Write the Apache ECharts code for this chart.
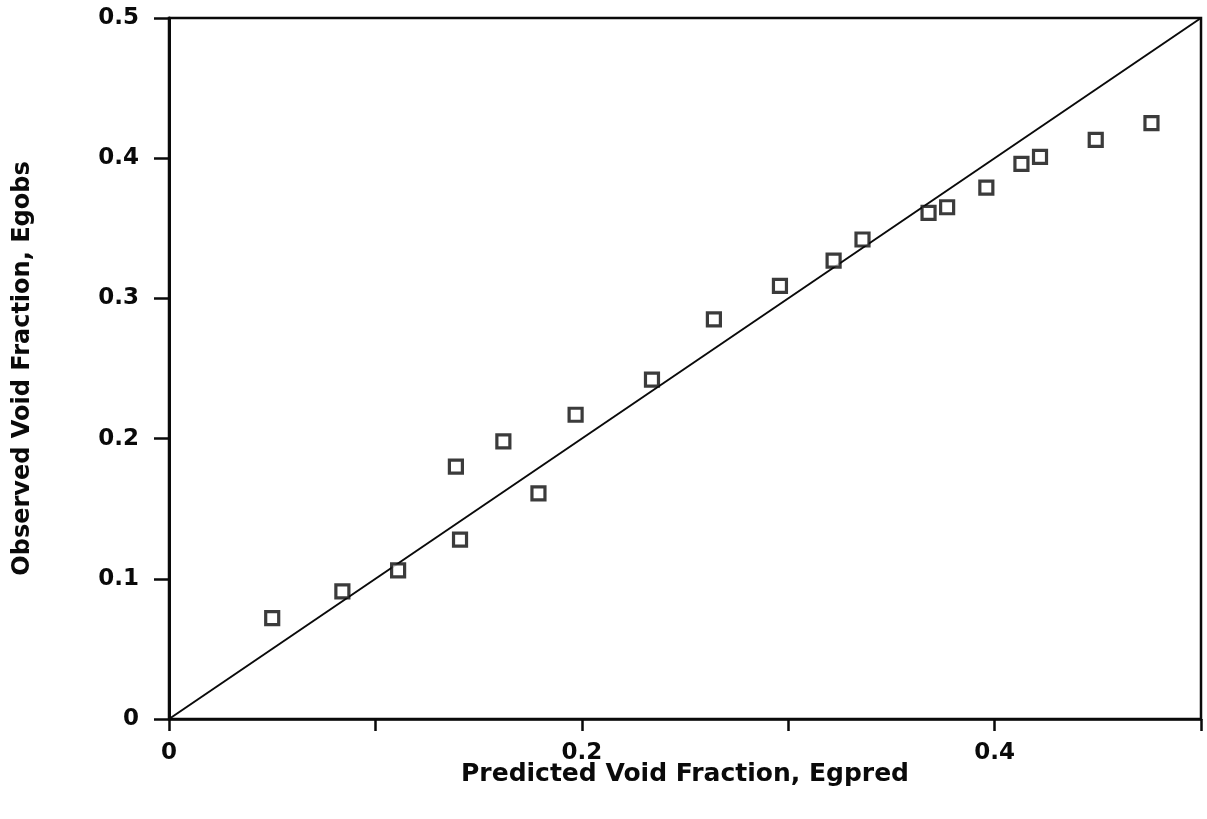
<!DOCTYPE html>
<html>
<head>
<meta charset="utf-8">
<script src="https://cdn.jsdelivr.net/npm/echarts@6/dist/echarts.min.js"></script>
<style>
  html, body { margin: 0; padding: 0; background: #fff; }
  #chart { width: 1207px; height: 819px; }
</style>
</head>
<body>
<div id="chart"></div>
<script>
// Predicted vs observed void fraction
const predicted = [0.050, 0.084, 0.111, 0.139, 0.141, 0.162, 0.179, 0.197, 0.234, 0.264, 0.296, 0.322, 0.336, 0.368, 0.377, 0.396, 0.413, 0.422, 0.449, 0.476];
const observed  = [0.072, 0.091, 0.106, 0.180, 0.128, 0.198, 0.161, 0.217, 0.242, 0.285, 0.309, 0.327, 0.342, 0.361, 0.365, 0.379, 0.396, 0.401, 0.413, 0.425];
// Parity (y = x) reference line end points
const parity = [[0, 0], [0.5, 0.5]];
const xTickLabels = ['0', '', '0.2', '', '0.4', ''];
const yTickLabels = ['0', '0.1', '0.2', '0.3', '0.4', '0.5'];

const font = 'DejaVu Sans';
const ink = '#0a0a0a';
const chart = echarts.init(document.getElementById('chart'));
chart.setOption({
  animation: false,
  backgroundColor: '#fff',
  grid: {
    left: 169, top: 18, right: 6, bottom: 100,
    show: true, borderColor: ink, borderWidth: 2.5, backgroundColor: 'transparent'
  },
  xAxis: {
    type: 'value', min: 0, max: 0.5, interval: 0.1,
    name: 'Predicted Void Fraction, Egpred',
    nameLocation: 'middle', nameGap: 43,
    nameMoveOverlap: false,
    nameTextStyle: { fontFamily: font, fontWeight: 'bold', fontSize: 25, color: ink },
    axisLine: { show: true, onZero: false, lineStyle: { color: ink, width: 2.5 } },
    axisTick: { show: true, inside: false, length: 12, lineStyle: { color: ink, width: 2.5 } },
    axisLabel: {
      margin: 23, fontFamily: font, fontWeight: 'bold', fontSize: 23, color: ink,
      formatter: (v) => xTickLabels[Math.round(v * 10)]
    },
    splitLine: { show: false }
  },
  yAxis: {
    type: 'value', min: 0, max: 0.5, interval: 0.1,
    name: 'Observed Void Fraction, Egobs',
    nameLocation: 'middle', nameGap: 134,
    nameMoveOverlap: false,
    nameTextStyle: { fontFamily: font, fontWeight: 'bold', fontSize: 24, color: ink },
    axisLine: { show: true, onZero: false, lineStyle: { color: ink, width: 3 } },
    axisTick: { show: true, inside: false, length: 15, lineStyle: { color: ink, width: 2.5 } },
    axisLabel: {
      margin: 30, fontFamily: font, fontWeight: 'bold', fontSize: 23, color: ink,
      formatter: (v) => yTickLabels[Math.round(v * 10)]
    },
    splitLine: { show: false }
  },
  series: [
    {
      type: 'line',
      data: parity,
      symbol: 'none',
      lineStyle: { color: ink, width: 2 },
      silent: true,
      z: 2
    },
    {
      type: 'scatter',
      data: predicted.map((x, i) => [x, observed[i]]),
      symbol: 'rect',
      symbolSize: 13,
      itemStyle: { color: '#fff', borderColor: ink, borderWidth: 3.2 },
      z: 3
    }
  ]
});
</script>
</body>
</html>
